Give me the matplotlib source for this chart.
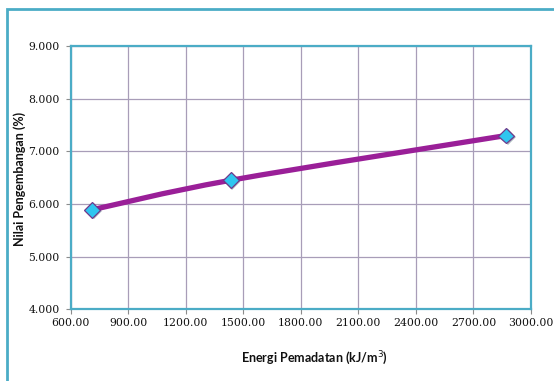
import matplotlib
matplotlib.use("Agg")
import matplotlib.pyplot as plt
import numpy as np
from matplotlib.path import Path
from matplotlib.patches import PathPatch, Rectangle
import matplotlib.patheffects as pe

# compaction energy vs swelling value
energi = [712, 1434, 2870]
pengembangan = [5.89, 6.45, 7.30]
x_ticks = [600, 900, 1200, 1500, 1800, 2100, 2400, 2700, 3000]
y_ticks = [4, 5, 6, 7, 8, 9]

teal = "#4BACC6"
purple = "#9A1F98"
grid_col = "#A89DB8"

fig = plt.figure(figsize=(5.54, 3.81), dpi=100)
fig.patch.set_facecolor("white")

# outer chart frame (left and top edges visible)
fig.patches.append(Rectangle((7.3 / 554, -0.2), 1.2, 1.2 - 9.3 / 381,
                             transform=fig.transFigure, fill=False,
                             edgecolor=teal, linewidth=2.0))

ax = fig.add_axes([70.7 / 554, 1 - 309.3 / 381, (531 - 70.7) / 554, (309.3 - 46) / 381])
ax.set_xlim(600, 3000)
ax.set_ylim(4, 9)
ax.set_xticks(x_ticks)
ax.set_yticks(y_ticks)
ax.set_xticklabels([f"{v:.2f}" for v in x_ticks])
ax.set_yticklabels([f"{v:.3f}" for v in y_ticks])
ax.grid(True, color=grid_col, linewidth=0.9)
ax.set_axisbelow(True)

for s in ax.spines.values():
    s.set_color(teal)
    s.set_linewidth(1.6)

ax.tick_params(axis="both", direction="out", length=3.5, width=0.8, color="#8C8C8C",
               labelsize=7.8, labelcolor="#111111")
ax.tick_params(axis="y", pad=4.5)
ax.tick_params(axis="x", pad=3)
for lab in ax.get_xticklabels() + ax.get_yticklabels():
    lab.set_fontfamily("DejaVu Serif")

# smoothed line through the points (Catmull-Rom style bezier)
pts = np.column_stack([energi, pengembangan]).astype(float)
n = len(pts)
verts = [pts[0]]
codes = [Path.MOVETO]
for i in range(n - 1):
    p0 = pts[max(i - 1, 0)]
    p1 = pts[i]
    p2 = pts[i + 1]
    p3 = pts[min(i + 2, n - 1)]
    c1 = p1 + (p2 - p0) / 6
    c2 = p2 - (p3 - p1) / 6
    verts += [c1, c2, p2]
    codes += [Path.CURVE4] * 3
curve = PathPatch(Path(verts, codes), transform=ax.transData, fill=False,
                  edgecolor=purple, linewidth=3.8, capstyle="round", zorder=3)
ax.add_patch(curve)

ax.plot(energi, pengembangan, linestyle="none", marker="D", markersize=8,
        markerfacecolor="#2EC6F0", markeredgecolor="#6E3A8C", markeredgewidth=0.9,
        zorder=4,
        path_effects=[pe.SimplePatchShadow(offset=(1.2, -1.2), alpha=0.35), pe.Normal()])

fig.text(19.5 / 554, 1 - 178.5 / 381, "Nilai Pengembangan (%)", rotation=90,
         ha="center", va="center", fontsize=9, fontweight="bold",
         family=["Lato", "DejaVu Sans"], color="#111111")
fig.text(314.5 / 554, 1 - 358 / 381, "Energi Pemadatan (kJ/m$^3$)",
         ha="center", va="center", fontsize=9, fontweight="bold",
         family=["Lato", "DejaVu Sans"], color="#111111")

fig.savefig("out.png", dpi=100, facecolor="white")
